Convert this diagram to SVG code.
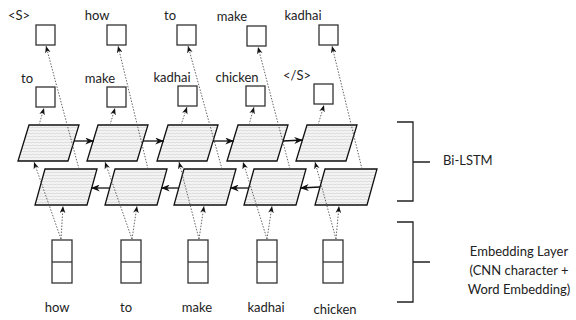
<svg xmlns="http://www.w3.org/2000/svg" width="576" height="320" viewBox="0 0 576 320">
<defs>
<pattern id="wave" patternUnits="userSpaceOnUse" width="4" height="3">
<rect width="4" height="3" fill="#f6f6f6"/>
<path d="M0,1.5 L1,1 L2,1.5 L3,2 L4,1.5" fill="none" stroke="#c4c4c4" stroke-width="0.6"/>
</pattern>
<marker id="ah" viewBox="0 0 10 8" refX="10" refY="4" markerWidth="7" markerHeight="6" markerUnits="userSpaceOnUse" orient="auto">
<path d="M0,0 L10,4 L0,8 L3,4 z" fill="#111"/>
</marker>
<marker id="ahs" viewBox="0 0 10 8" refX="10" refY="4" markerWidth="9" markerHeight="7" markerUnits="userSpaceOnUse" orient="auto">
<path d="M0,0 L10,4 L0,8 L3,4 z" fill="#111"/>
</marker>
</defs>
<style>
.box{fill:#fff;stroke:#333;stroke-width:1.3}
.cell{fill:url(#wave);stroke:#111;stroke-width:1.3}
.dot{fill:none;stroke:#555;stroke-width:0.9;stroke-dasharray:1.5 1.5;marker-end:url(#ah)}
.sol{fill:none;stroke:#111;stroke-width:1.3;marker-end:url(#ahs)}
.br{fill:none;stroke:#222;stroke-width:1.3}
text{font-family:Lato,"Liberation Sans",sans-serif;font-size:13px;fill:#222}
.m{text-anchor:middle}
</style>

<g id="top-outputs">
<g id="out-top-1"><rect class="box" x="36" y="25" width="19" height="20"/><text class="m" x="19" y="20">&lt;S&gt;</text></g>
<g id="out-top-2"><rect class="box" x="107" y="25" width="19" height="20"/><text class="m" x="97" y="20">how</text></g>
<g id="out-top-3"><rect class="box" x="177" y="25" width="19" height="20"/><text class="m" x="170" y="20">to</text></g>
<g id="out-top-4"><rect class="box" x="247" y="26" width="19" height="20"/><text class="m" x="232" y="21">make</text></g>
<g id="out-top-5"><rect class="box" x="319" y="25" width="19" height="20"/><text class="m" x="303" y="20">kadhai</text></g>
</g>

<g id="mid-outputs">
<g id="out-mid-1"><rect class="box" x="36" y="87" width="19" height="20"/><text class="m" x="27" y="83">to</text></g>
<g id="out-mid-2"><rect class="box" x="107" y="87" width="19" height="20"/><text class="m" x="100" y="83">make</text></g>
<g id="out-mid-3"><rect class="box" x="178" y="86" width="19" height="20"/><text class="m" x="172" y="82">kadhai</text></g>
<g id="out-mid-4"><rect class="box" x="246" y="86" width="19" height="20"/><text class="m" x="237" y="82">chicken</text></g>
<g id="out-mid-5"><rect class="box" x="314" y="84" width="19" height="20"/><text class="m" x="297" y="80">&lt;/S&gt;</text></g>
</g>

<g id="forward-lstm">
<g id="fw-1"><polygon class="cell" points="29,125 79,125 68,161 18,161"/></g>
<g id="fw-2"><polygon class="cell" points="98,125 148,125 137,161 87,161"/></g>
<g id="fw-3"><polygon class="cell" points="168,125 218,125 207,161 157,161"/></g>
<g id="fw-4"><polygon class="cell" points="238,125 288,125 277,161 227,161"/></g>
<g id="fw-5"><polygon class="cell" points="307,125 357,125 346,161 296,161"/></g>
</g>

<g id="backward-lstm">
<g id="bw-1"><polygon class="cell" points="45,169 97,169 87,205 35,205"/></g>
<g id="bw-2"><polygon class="cell" points="115,169 167,169 157,205 105,205"/></g>
<g id="bw-3"><polygon class="cell" points="184,169 236,169 226,205 174,205"/></g>
<g id="bw-4"><polygon class="cell" points="254,169 306,169 296,205 244,205"/></g>
<g id="bw-5"><polygon class="cell" points="325,169 377,169 367,205 315,205"/></g>
</g>

<g id="embeddings">
<g id="emb-1"><rect class="box" x="52" y="240" width="20" height="43"/><line class="box" x1="52" y1="262" x2="72" y2="262"/><text class="m" x="57" y="312">how</text></g>
<g id="emb-2"><rect class="box" x="121" y="240" width="20" height="43"/><line class="box" x1="121" y1="262" x2="141" y2="262"/><text class="m" x="126" y="312">to</text></g>
<g id="emb-3"><rect class="box" x="188" y="240" width="20" height="43"/><line class="box" x1="188" y1="262" x2="208" y2="262"/><text class="m" x="197" y="312">make</text></g>
<g id="emb-4"><rect class="box" x="257" y="240" width="20" height="43"/><line class="box" x1="257" y1="262" x2="277" y2="262"/><text class="m" x="266" y="312">kadhai</text></g>
<g id="emb-5"><rect class="box" x="323" y="240" width="20" height="43"/><line class="box" x1="323" y1="262" x2="343" y2="262"/><text class="m" x="335" y="314">chicken</text></g>
</g>

<g id="connectors">
<line class="dot" x1="61" y1="239" x2="63" y2="206"/>
<line class="dot" x1="61" y1="239" x2="34" y2="162"/>
<line class="dot" x1="132" y1="239" x2="137" y2="206"/>
<line class="dot" x1="132" y1="239" x2="105" y2="162"/>
<line class="dot" x1="199" y1="239" x2="204" y2="206"/>
<line class="dot" x1="199" y1="239" x2="179" y2="162"/>
<line class="dot" x1="267" y1="239" x2="272" y2="206"/>
<line class="dot" x1="267" y1="239" x2="243" y2="162"/>
<line class="dot" x1="336" y1="239" x2="339" y2="206"/>
<line class="dot" x1="336" y1="239" x2="315" y2="162"/>

<line class="dot" x1="39" y1="125" x2="44" y2="108"/>
<line class="dot" x1="110" y1="125" x2="115" y2="108"/>
<line class="dot" x1="181" y1="125" x2="187" y2="107"/>
<line class="dot" x1="249" y1="125" x2="254" y2="107"/>
<line class="dot" x1="318" y1="125" x2="324" y2="105"/>

<line class="dot" x1="79" y1="169" x2="46" y2="46"/>
<line class="dot" x1="148" y1="169" x2="118" y2="46"/>
<line class="dot" x1="222" y1="169" x2="188" y2="46"/>
<line class="dot" x1="290" y1="169" x2="258" y2="47"/>
<line class="dot" x1="362" y1="169" x2="332" y2="46"/>

<line class="sol" x1="74" y1="141" x2="94" y2="141"/>
<line class="sol" x1="143" y1="141" x2="164" y2="141"/>
<line class="sol" x1="213" y1="141" x2="234" y2="141"/>
<line class="sol" x1="283" y1="141" x2="303" y2="140"/>

<line class="sol" x1="110" y1="188" x2="91" y2="188"/>
<line class="sol" x1="179" y1="188" x2="161" y2="188"/>
<line class="sol" x1="249" y1="188" x2="230" y2="188"/>
<line class="sol" x1="320" y1="187" x2="300" y2="188"/>
</g>

<g id="bilstm-bracket">
<path class="br" d="M397,122 H413 V201 H397 M413,162 H430"/>
<text x="443" y="165">Bi-LSTM</text>
</g>
<g id="embedding-bracket">
<path class="br" d="M397,222 H413 V302 H397 M413,262 H430"/>
<text class="m" x="519" y="256">Embedding Layer</text>
<text class="m" x="519" y="275">(CNN character +</text>
<text class="m" x="519" y="294">Word Embedding)</text>
</g>
</svg>
